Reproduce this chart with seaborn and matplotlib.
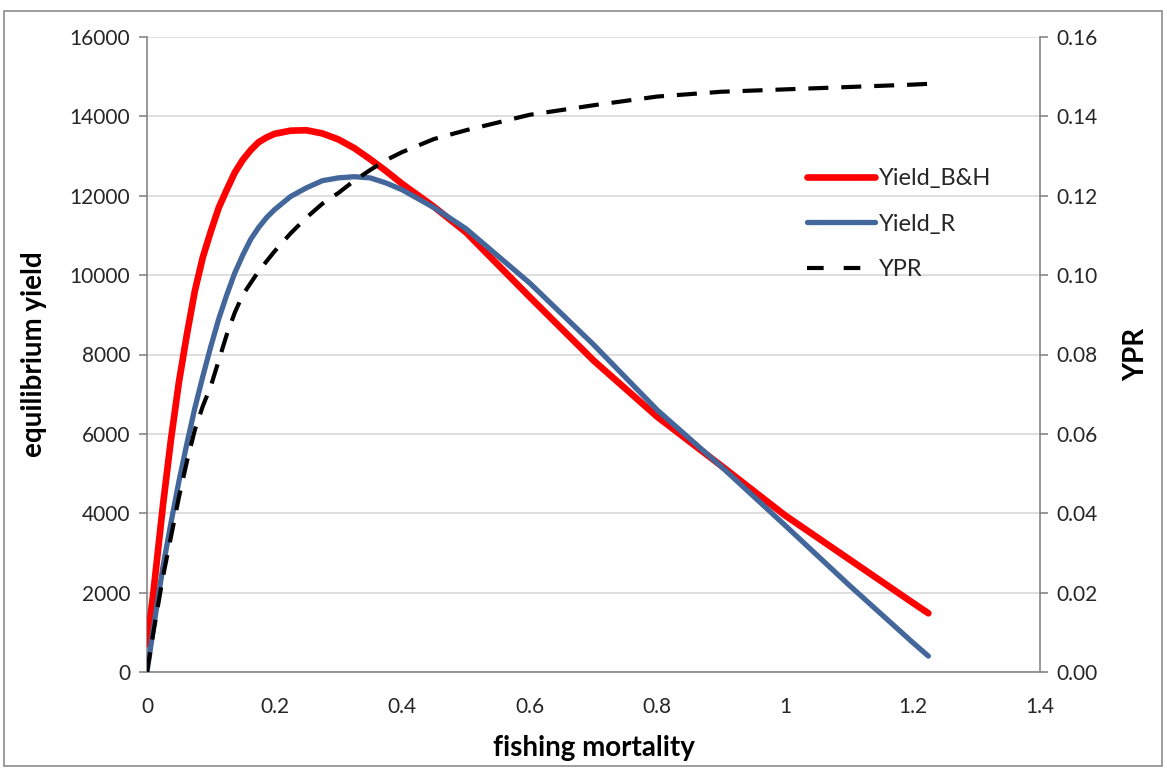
import matplotlib
matplotlib.use("Agg")
import matplotlib.pyplot as plt
import seaborn as sns
import pandas as pd
from matplotlib.patches import Rectangle

# ---- data ----
F = [0, 0.01, 0.025, 0.0375, 0.05, 0.0625, 0.075, 0.0875, 0.1, 0.1125, 0.125,
     0.1375, 0.15, 0.1625, 0.175, 0.1875, 0.2, 0.225, 0.25, 0.275, 0.3, 0.325,
     0.35, 0.375, 0.4, 0.45, 0.5, 0.6, 0.7, 0.8, 0.9, 1.0, 1.1, 1.2, 1.225]
yield_bh = [700, 2000, 4200, 5850, 7300, 8500, 9600, 10450, 11100, 11700, 12150,
            12580, 12900, 13150, 13350, 13470, 13560, 13640, 13650, 13570, 13420,
            13200, 12920, 12620, 12300, 11720, 11080, 9450, 7850, 6430, 5200,
            3950, 2850, 1750, 1480]
yield_r = [0, 1100, 2650, 3750, 4800, 5750, 6650, 7450, 8200, 8900, 9500,
           10050, 10500, 10900, 11200, 11450, 11650, 11980, 12200, 12380, 12450,
           12480, 12450, 12320, 12150, 11700, 11170, 9800, 8250, 6600, 5180,
           3700, 2200, 750, 400]
ypr = [0, 0.010, 0.024, 0.034, 0.044, 0.053, 0.061, 0.067, 0.072, 0.0785, 0.085,
       0.0905, 0.095, 0.098, 0.101, 0.1035, 0.106, 0.1105, 0.1145, 0.118, 0.1207,
       0.1238, 0.1265, 0.1290, 0.1310, 0.1343, 0.1365, 0.1404, 0.1428, 0.1450,
       0.1462, 0.1468, 0.1474, 0.1480, 0.1482]
left_ticks = [0, 2000, 4000, 6000, 8000, 10000, 12000, 14000, 16000]
right_ticks = [0.00, 0.02, 0.04, 0.06, 0.08, 0.10, 0.12, 0.14, 0.16]
x_ticks = [0, 0.2, 0.4, 0.6, 0.8, 1, 1.2, 1.4]
x_tick_labels = ["0", "0.2", "0.4", "0.6", "0.8", "1", "1.2", "1.4"]

df = pd.DataFrame({"F": F, "Yield_B&H": yield_bh, "Yield_R": yield_r, "YPR": ypr})

sns.set_theme(style="white")
plt.rcParams["font.family"] = ["Lato", "DejaVu Sans"]

fig = plt.figure(figsize=(11.67, 7.69), dpi=100)
ax = fig.add_axes([147 / 1167, 1 - 672 / 769, (1040 - 147) / 1167, (672 - 37) / 769])
ax2 = ax.twinx()

grid_c = "#D9D9D9"
axis_c = "#868686"
txt_c = "#262626"

sns.lineplot(data=df, x="F", y="Yield_B&H", ax=ax, color="#FF0000", lw=4.8,
             label="Yield_B&H", legend=False, solid_capstyle="round",
             solid_joinstyle="round", zorder=3)
sns.lineplot(data=df, x="F", y="Yield_R", ax=ax, color="#44679B", lw=3.8,
             label="Yield_R", legend=False, solid_capstyle="round",
             solid_joinstyle="round", zorder=4)
sns.lineplot(data=df, x="F", y="YPR", ax=ax2, color="black", lw=3.0,
             label="YPR", legend=False, zorder=5)
ax2.lines[0].set_dashes((4.8, 3.1))

ax.set_xlim(0, 1.4)
ax.set_ylim(0, 16000)
ax2.set_ylim(0, 0.16)
ax.set_xticks(x_ticks)
ax.set_xticklabels(x_tick_labels)
ax.set_yticks(left_ticks)
ax.set_yticklabels([str(v) for v in left_ticks])
ax2.set_yticks(right_ticks)
ax2.set_yticklabels([f"{v:.2f}" for v in right_ticks])

ax.yaxis.grid(True, color=grid_c, lw=1.2)
ax.set_axisbelow(True)
for a in (ax, ax2):
    a.spines["top"].set_visible(False)
    for s in ("left", "right", "bottom"):
        a.spines[s].set_color(axis_c)
        a.spines[s].set_linewidth(1.2)
ax.spines["right"].set_visible(False)
ax2.spines["left"].set_visible(False)
ax2.spines["bottom"].set_visible(False)

tick_kw = dict(direction="out", length=6, width=1.2, color=axis_c,
               labelcolor=txt_c, labelsize=15, pad=6)
ax.tick_params(axis="y", **tick_kw)
ax2.tick_params(axis="y", **tick_kw)
ax.tick_params(axis="x", direction="in", length=5, width=1.2, color=axis_c,
               labelcolor=txt_c, labelsize=15, pad=18)

lab_kw = dict(fontsize=20, fontweight="bold", color="black")
ax.set_xlabel("fishing mortality", labelpad=13, **lab_kw)
ax.set_ylabel("equilibrium yield", labelpad=16, **lab_kw)
ax2.set_ylabel("YPR", labelpad=18, **lab_kw)

h1, l1 = ax.get_legend_handles_labels()
h2, l2 = ax2.get_legend_handles_labels()
leg = ax2.legend(h1 + h2, l1 + l2, loc="upper left", bbox_to_anchor=(0.715, 0.8275),
                 frameon=False, fontsize=17, handlelength=2.9, handletextpad=0.15,
                 labelspacing=1.05, labelcolor=txt_c)
leg.get_lines()[2].set_dashes((4.0, 4.8))

fig.patches.append(Rectangle((4 / 1167, 3 / 769), 1158 / 1167, 755 / 769,
                             transform=fig.transFigure, fill=False,
                             edgecolor="#8C8C8C", lw=1.2))

fig.savefig("out.png", dpi=100)
